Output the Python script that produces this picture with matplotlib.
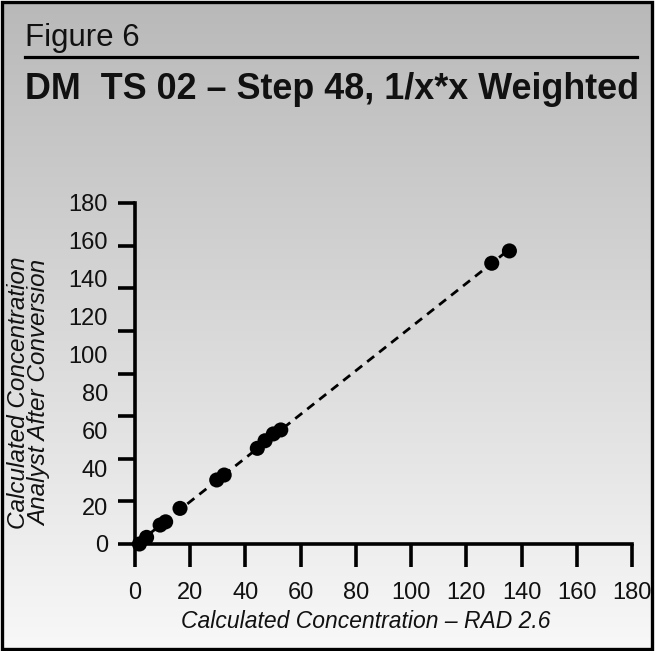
import numpy as np
import matplotlib
matplotlib.use("Agg")
import matplotlib.pyplot as plt
from matplotlib.patches import Rectangle
from matplotlib import font_manager

# ---- data ----
rad_conc = [1.6, 4.2, 9.1, 11.1, 16.3, 29.6, 32.3, 44.3, 47.1, 50.1, 52.8, 129.2, 135.6]
analyst_conc = [0.0, 3.5, 10.0, 11.7, 18.8, 33.8, 36.4, 50.5, 54.5, 58.1, 60.2, 148.2, 154.7]
x_ticklabels = [0, 20, 40, 60, 80, 100, 120, 140, 160, 180]
y_ticklabels = [0, 20, 40, 60, 80, 100, 120, 140, 160, 180]
y_tickmarks = [0, 22.5, 45, 67.5, 90, 112.5, 135, 157.5, 180]

W, H = 657, 651
DPI = 100
names = {f.name for f in font_manager.fontManager.ttflist}
narrow = 'Liberation Sans Narrow' if 'Liberation Sans Narrow' in names else 'Liberation Sans'
plt.rcParams['font.family'] = ['Liberation Sans', 'DejaVu Sans']

fig = plt.figure(figsize=(W / DPI, H / DPI), dpi=DPI)
fig.patch.set_facecolor('white')

def fx(px):
    return px / W

def fy(py):
    return 1 - py / H

# gradient background inside border
bx0, by0, bx1, by1 = 2, 2, 652, 649
gax = fig.add_axes([fx(bx0), fy(by1), fx(bx1 - bx0), (by1 - by0) / H], zorder=-5)
grad = np.linspace(0xb9, 0xf8, 256)[:, None] / 255.0
gimg = np.dstack([grad, grad, grad])
gax.imshow(gimg, aspect='auto', extent=[0, 1, 0, 1], origin='upper')
gax.set_axis_off()

# border
fig.patches.append(Rectangle((fx(bx0), fy(by1)), fx(bx1 - bx0), (by1 - by0) / H,
                             transform=fig.transFigure, fill=False,
                             edgecolor='black', linewidth=2.4, zorder=10))

# header
fig.text(fx(25), fy(46), 'Figure 6', fontsize=22.5, ha='left', va='baseline', color='#111111')
fig.add_artist(plt.Line2D([fx(25), fx(637)], [fy(57), fy(57)], transform=fig.transFigure,
                          color='black', linewidth=2.3))
fig.text(fx(25), fy(99), 'DM  TS 02 \u2013 Step 48, 1/x*x Weighted', fontsize=25.8,
         fontweight='bold', ha='left', va='baseline', color='#111111')

# main axes
ax_l, ax_r, ax_t, ax_b = 135, 632, 203, 544
ax = fig.add_axes([fx(ax_l), fy(ax_b), fx(ax_r - ax_l), (ax_b - ax_t) / H])
ax.set_facecolor('none')
ax.set_xlim(0, 180)
ax.set_ylim(0, 180)
for s in ['top', 'right']:
    ax.spines[s].set_visible(False)
for s in ['left', 'bottom']:
    ax.spines[s].set_linewidth(2.6)
    ax.spines[s].set_capstyle('projecting')

ax.set_xticks(x_ticklabels)
ax.set_xticklabels([str(v) for v in x_ticklabels])
ax.tick_params(axis='x', direction='out', length=16.5, width=2.6, pad=11,
               labelsize=17, labelcolor='#111111')

ax.yaxis.remove_overlapping_locs = False
ax.set_yticks(y_tickmarks)
ax.set_yticklabels([])
ax.tick_params(axis='y', which='major', direction='out', length=12.5, width=2.6)
ax.set_yticks(y_ticklabels, minor=True)
ax.set_yticklabels([str(v) for v in y_ticklabels], minor=True)
ax.tick_params(axis='y', which='minor', length=0, pad=19.5, labelsize=17, labelcolor='#111111')

# fitted dashed line
coef = np.polyfit(rad_conc, analyst_conc, 1)
xl = np.array([min(rad_conc), max(rad_conc)])
ax.plot(xl, np.polyval(coef, xl), color='black', linewidth=2.0,
        linestyle=(0, (3.2, 2.3)), zorder=2, clip_on=False)
ax.scatter(rad_conc, analyst_conc, s=118, color='black', zorder=3, clip_on=False,
           edgecolors='none')

fig.text(fx(366), fy(622), 'Calculated Concentration \u2013 RAD 2.6', fontsize=16.5,
         style='italic', ha='center', va='center', color='#111111')
fig.text(fx(29), fy(393), 'Calculated Concentration\nAnalyst After Conversion',
         fontsize=17.5, style='italic', family=[narrow, 'DejaVu Sans'], rotation=90,
         ha='center', va='center', linespacing=0.9, color='#111111')

fig.savefig('out.png', dpi=DPI, facecolor=fig.get_facecolor())
